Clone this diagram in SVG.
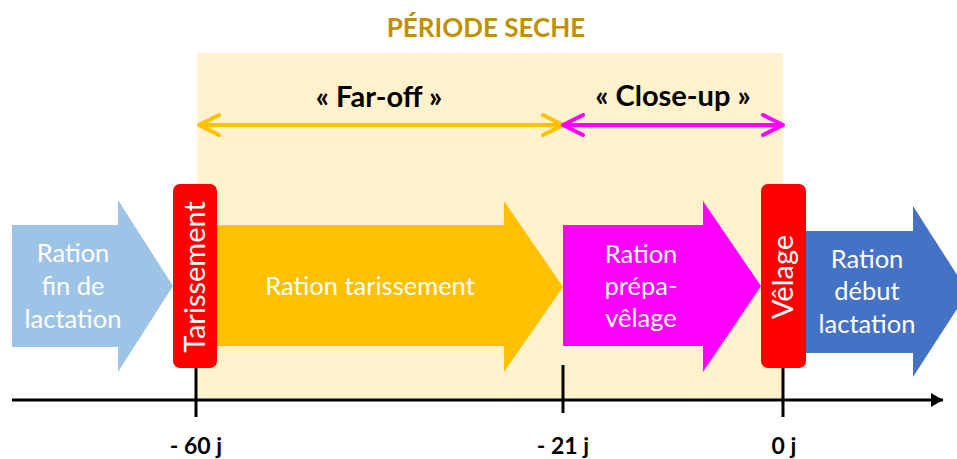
<svg xmlns="http://www.w3.org/2000/svg" width="957" height="459" viewBox="0 0 957 459">
  <defs>
    <style>
      .body { font-family: Lato, "Liberation Sans", sans-serif; font-size: 25.5px; fill: #ffffff; text-anchor: middle; }
      .vert { font-family: Lato, "Liberation Sans", sans-serif; font-size: 29px; fill: #ffffff; text-anchor: middle; }
      .lbl { font-family: Lato, "Liberation Sans", sans-serif; font-weight: bold; font-size: 23px; fill: #000000; text-anchor: middle; }
      .phase { font-family: Lato, "Liberation Sans", sans-serif; font-weight: bold; font-size: 29px; fill: #000000; text-anchor: middle; }
      .title { font-family: Lato, "Liberation Sans", sans-serif; font-weight: bold; font-size: 26px; fill: #BF9000; text-anchor: middle; }
      .tick { stroke: #000000; stroke-width: 3; }
      .redbox { fill: #FF0000; }
    </style>
    <marker id="axisHead" viewBox="0 0 12 14" refX="12" refY="7" markerWidth="12" markerHeight="14" markerUnits="userSpaceOnUse" orient="auto">
      <path d="M0,0 L12,7 L0,14 Z" fill="#000000"/>
    </marker>
  </defs>

  <rect id="dry-period" x="197" y="53" width="586" height="347" fill="#FFF2CC"/>
  <text class="title" x="486" y="37">PÉRIODE SECHE</text>

  <g id="far-off">
    <path d="M199,125 H561 M219,115 L199,125 L219,135 M543,115 L563,125 L543,135" fill="none" stroke="#FFC000" stroke-width="4" stroke-linecap="round" stroke-linejoin="round"/>
    <text class="phase" x="379" y="107">« Far-off »</text>
  </g>
  <g id="close-up">
    <path d="M565,125 H781 M583,115 L563,125 L583,135 M763,115 L783,125 L763,135" fill="none" stroke="#FF00FF" stroke-width="4" stroke-linecap="round" stroke-linejoin="round"/>
    <text class="phase" x="673" y="106">« Close-up »</text>
  </g>

  <g id="ration-fin-lactation">
    <path d="M12,225 H118 V200 L173,286 L118,372 V347 H12 Z" fill="#9DC3E6"/>
    <text class="body" x="73" y="262">Ration</text>
    <text class="body" x="73" y="295">fin de</text>
    <text class="body" x="73" y="328">lactation</text>
  </g>
  <g id="ration-tarissement">
    <path d="M210,225 H504 V201 L563,287 L504,372 V346 H210 Z" fill="#FFC000"/>
    <text class="body" x="370" y="295">Ration tarissement</text>
  </g>
  <g id="ration-prepa-velage">
    <path d="M563,225 H703 V201 L761,286 L703,372 V346 H563 Z" fill="#FF00FF"/>
    <text class="body" x="641" y="263">Ration</text>
    <text class="body" x="641" y="295">prépa-</text>
    <text class="body" x="641" y="327">vêlage</text>
  </g>
  <g id="ration-debut-lactation">
    <path d="M800,231 H913 V206 L968,292 L913,377 V353 H800 Z" fill="#4472C4"/>
    <text class="body" x="867" y="268">Ration</text>
    <text class="body" x="867" y="300">début</text>
    <text class="body" x="867" y="333">lactation</text>
  </g>

  <g id="tarissement">
    <rect class="redbox" x="173" y="184" width="44" height="184" rx="7"/>
    <text class="vert" transform="translate(205,277) rotate(-90)" x="0" y="0">Tarissement</text>
  </g>
  <g id="velage">
    <rect class="redbox" x="761" y="184" width="45" height="184" rx="7"/>
    <text class="vert" transform="translate(793,277) rotate(-90)" x="0" y="0">Vêlage</text>
  </g>

  <g id="connectors">
    <line class="tick" x1="12" y1="400" x2="943" y2="400" marker-end="url(#axisHead)"/>
    <line class="tick" x1="196" y1="368" x2="196" y2="417"/>
    <line class="tick" x1="563" y1="365" x2="563" y2="413"/>
    <line class="tick" x1="783" y1="368" x2="783" y2="417"/>
  </g>

  <g id="axis-labels">
    <text class="lbl" x="196" y="454">- 60 j</text>
    <text class="lbl" x="563" y="454">- 21 j</text>
    <text class="lbl" x="784" y="454">0 j</text>
  </g>
</svg>
